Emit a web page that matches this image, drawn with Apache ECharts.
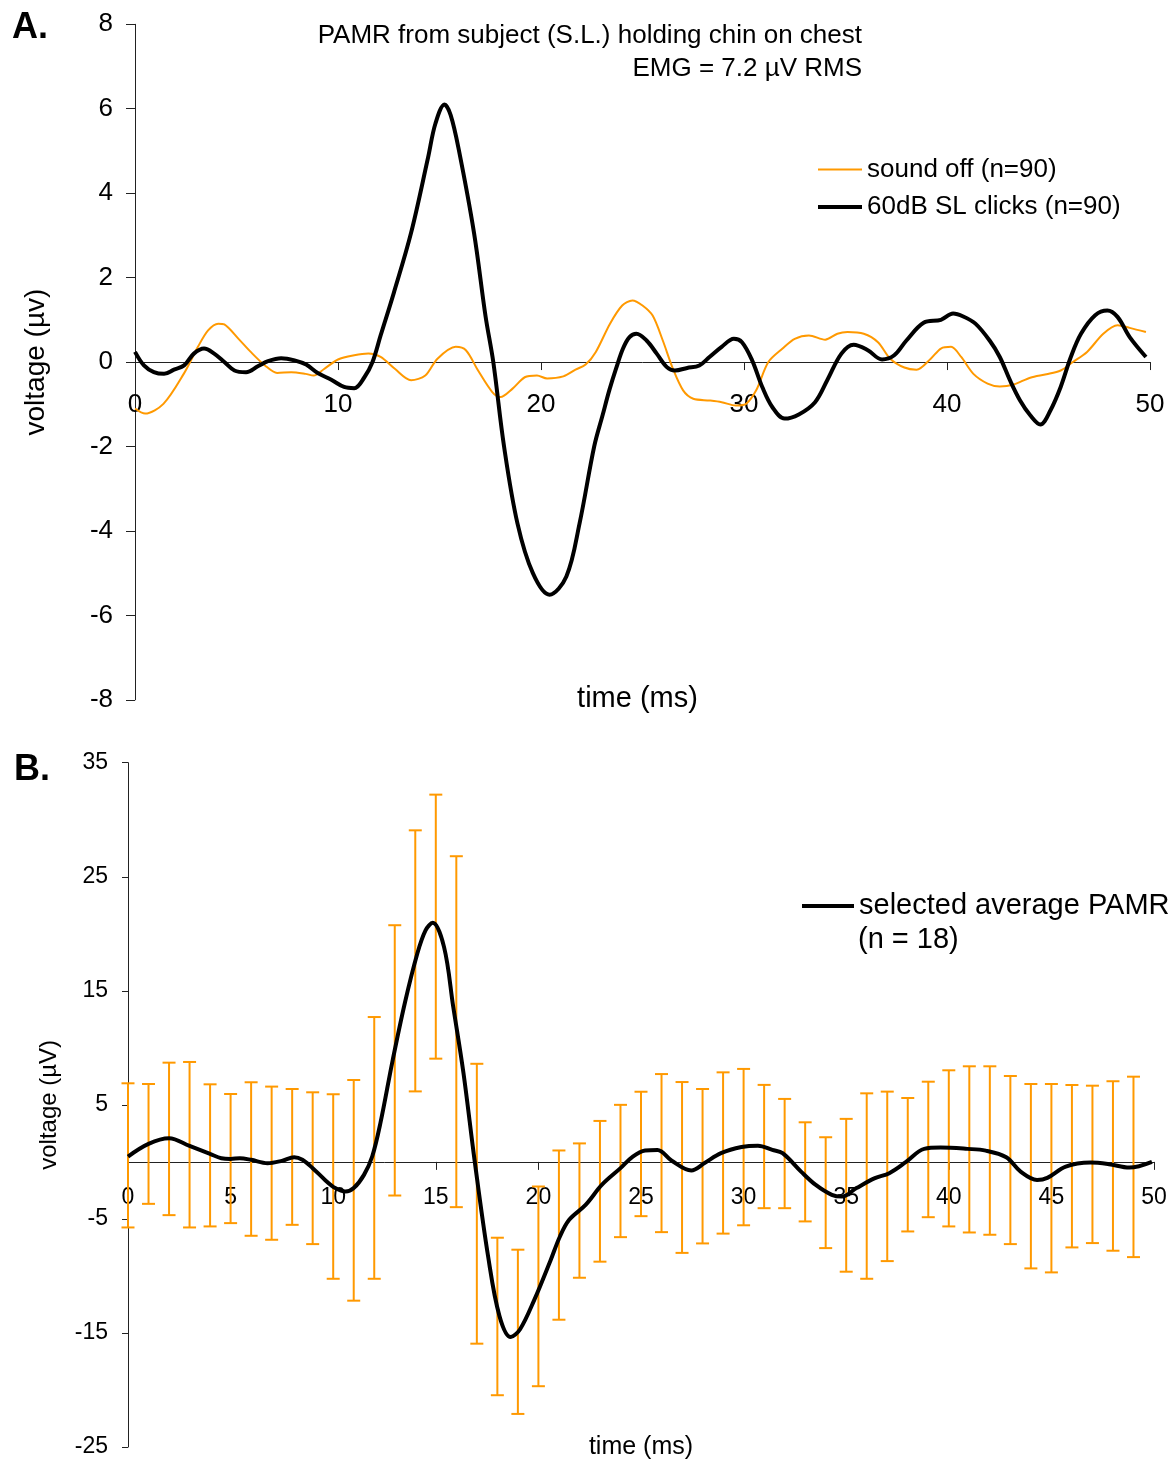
<!DOCTYPE html>
<html>
<head>
<meta charset="utf-8">
<script src="https://cdn.jsdelivr.net/npm/echarts@6/dist/echarts.min.js"></script>
<style>
html,body{margin:0;padding:0;background:#fff;}
#c{width:1175px;height:1459px;}
</style>
</head>
<body>
<div id="c"></div>
<script>
// ---------- Panel A data ----------
const soundOffT = [0,0.5,1.4,2.4,3.1,3.6,4.1,4.4,5.1,5.7,6.4,7.0,7.7,8.4,8.8,9.3,10.0,10.8,11.5,12.1,12.8,13.6,14.3,14.9,15.8,16.3,16.9,17.6,18.0,18.6,19.2,19.8,20.3,21.1,21.7,22.2,22.7,23.4,24.0,24.5,25.0,25.5,26.0,26.5,27.0,27.5,28.3,28.9,29.6,30.1,30.6,31.2,31.9,32.5,33.2,34.0,34.6,35.1,35.9,36.6,37.2,37.9,38.5,39.2,39.7,40.2,40.7,41.3,42.0,42.6,43.3,44.1,44.9,45.6,46.2,46.9,47.7,48.4,49.0,49.8];
const soundOffV = [-1.1,-1.22,-0.99,-0.28,0.36,0.75,0.91,0.89,0.55,0.24,-0.08,-0.26,-0.24,-0.28,-0.32,-0.17,0.06,0.16,0.2,0.12,-0.16,-0.43,-0.32,0.08,0.36,0.28,-0.2,-0.71,-0.83,-0.63,-0.36,-0.32,-0.39,-0.34,-0.18,-0.06,0.24,0.91,1.34,1.46,1.34,1.1,0.51,-0.16,-0.67,-0.87,-0.91,-0.95,-1.03,-0.99,-0.67,0,0.32,0.55,0.63,0.53,0.67,0.71,0.67,0.47,0.08,-0.13,-0.18,0.08,0.32,0.36,0.12,-0.28,-0.51,-0.58,-0.53,-0.37,-0.29,-0.2,0,0.24,0.67,0.87,0.81,0.71];
const clicksT = [0,0.44,0.93,1.43,1.92,2.42,2.9,3.4,3.9,4.4,4.9,5.47,6.05,6.55,7.2,7.86,8.43,9.0,9.67,10.3,10.8,11.3,11.7,12.1,12.75,13.6,14.44,14.8,15.25,15.55,15.95,16.7,17.27,17.65,18.18,18.84,19.6,20.42,21.25,21.9,22.62,23.04,23.37,23.7,24.04,24.36,24.7,25.2,25.7,26.2,26.6,27.2,27.8,28.3,28.9,29.5,29.9,30.4,30.9,31.4,32.0,32.7,33.5,34.1,34.8,35.4,36.1,36.8,37.4,38.0,38.85,39.7,40.3,40.8,41.4,42.1,42.6,43.1,43.6,44.1,44.6,45.1,45.6,46.1,46.6,47.3,47.9,48.4,49.0,49.8];
const clicksV = [0.24,-0.08,-0.24,-0.28,-0.18,-0.08,0.2,0.32,0.2,0,-0.2,-0.24,-0.1,0.02,0.09,0.04,-0.06,-0.26,-0.42,-0.59,-0.62,-0.36,0,0.63,1.64,3.06,4.85,5.65,6.1,5.85,5.03,3.06,1.08,0,-2.0,-3.82,-5.0,-5.51,-5.08,-3.82,-2.0,-1.25,-0.66,-0.15,0.32,0.59,0.67,0.51,0.2,-0.12,-0.2,-0.14,-0.08,0.12,0.36,0.55,0.47,0.04,-0.59,-1.07,-1.34,-1.24,-0.95,-0.43,0.2,0.41,0.28,0.06,0.16,0.51,0.93,1.0,1.15,1.08,0.91,0.51,0.12,-0.43,-0.91,-1.26,-1.48,-1.14,-0.59,0.12,0.67,1.11,1.22,1.07,0.59,0.12];
const ticksA_x = [0,10,20,30,40,50];
const ticksA_y = [-8,-6,-4,-2,0,2,4,6,8];

// ---------- Panel B data ----------
const meanT = [0,1,2,3,4,4.55,5,5.45,6,6.8,7.5,8.1,8.5,9,9.6,10.1,10.6,11.0,11.5,11.9,12.3,12.9,13.5,14.1,14.5,14.85,15.4,15.85,16.35,16.9,17.55,18.1,18.65,19.1,19.8,20.6,21.05,21.5,22.3,23.1,24.0,24.6,25.2,25.8,26.5,27.45,28.1,28.9,29.9,30.7,31.4,31.9,32.8,33.5,34.3,34.8,35.5,36.4,37.1,37.9,38.8,39.6,40.9,41.8,42.8,43.5,44.3,44.8,45.7,46.9,47.8,48.8,49.9];
const meanV = [0.47,1.58,2.07,1.4,0.7,0.32,0.26,0.32,0.18,-0.12,0.09,0.41,0.18,-0.55,-1.58,-2.3,-2.6,-2.3,-1.14,0.47,3.4,8.93,14.0,18.27,20.3,20.96,18.85,13.6,7.77,0,-8.3,-13.5,-15.36,-14.7,-12.1,-8.6,-6.54,-5.08,-3.77,-2.0,-0.55,0.47,1.0,1.05,0.1,-0.75,-0.1,0.76,1.3,1.42,1.05,0.76,-0.85,-2.0,-2.89,-3.04,-2.3,-1.43,-0.99,-0.03,1.14,1.25,1.14,0.99,0.41,-0.85,-1.58,-1.4,-0.41,-0.06,-0.2,-0.5,0.0];
const errT = [0,1,2,3,4,5,6,7,8,9,10,11,12,13,14,15,16,17,18,19,20,21,22,23,24,25,26,27,28,29,30,31,32,33,34,35,36,37,38,39,40,41,42,43,44,45,46,47,48,49];
const errHigh = [6.89,6.83,8.7,8.76,6.8,5.95,6.98,6.6,6.39,6.1,5.93,7.18,12.7,20.75,29.07,32.2,26.8,8.6,-6.65,-7.7,-2.16,1.0,1.62,3.59,5.0,6.15,7.7,7.0,6.39,7.85,8.15,6.75,5.52,3.47,2.16,3.77,6.01,6.16,5.6,7.03,8.03,8.38,8.38,7.53,6.83,6.83,6.74,6.68,7.07,7.47];
const errLow = [-5.75,-3.68,-4.67,-5.75,-5.66,-5.37,-6.48,-6.83,-5.52,-7.21,-10.25,-12.17,-10.25,-2.95,6.18,9.05,-3.97,-15.94,-20.46,-22.1,-19.67,-13.84,-10.16,-8.75,-6.6,-4.76,-6.16,-7.98,-7.15,-6.29,-5.56,-4.06,-4.06,-5.22,-7.56,-9.63,-10.25,-8.7,-6.1,-4.85,-5.66,-6.19,-6.39,-7.21,-9.34,-9.69,-7.5,-7.12,-7.79,-8.35];
const ticksB_x = [0,5,10,15,20,25,30,35,40,45,50];
const ticksB_y = [-25,-15,-5,5,15,25,35];

const ORANGE = '#FF9900';
const FONT = '"Liberation Sans", Arial, sans-serif';

const zip = (a, b) => a.map((v, i) => [v, b[i]]);
const errData = errT.map((t, i) => [t, errLow[i], errHigh[i]]);

const gridA = {left: 135, top: 24.3, width: 1015, height: 675.5, outerBoundsMode: 'none', containLabel: false};
const gridB = {left: 128, top: 762.7, width: 1026, height: 684.3, outerBoundsMode: 'none', containLabel: false};

// pixel lift of the x axis so that it runs along value 0 of the y axis
function zeroLift(grid, yt) {
  const lo = yt[0], hi = yt[yt.length - 1];
  return -grid.height * (0 - lo) / (hi - lo);
}

const chart = echarts.init(document.getElementById('c'), null, {renderer: 'canvas'});

function axisX(grid, gridObj, ticks, yt, fs, margin, name, nfs, gap, namePad) {
  return {
    type: 'value', gridIndex: grid, position: 'bottom',
    offset: zeroLift(gridObj, yt),
    min: ticks[0], max: ticks[ticks.length - 1], interval: ticks[1] - ticks[0],
    axisLine: {onZero: false, lineStyle: {color: '#222', width: 1}},
    axisTick: {show: true, inside: false, length: 8, lineStyle: {color: '#222'}},
    axisLabel: {color: '#000', fontSize: fs, fontFamily: FONT, margin: margin},
    splitLine: {show: false},
    name: name, nameLocation: 'middle', nameGap: gap,
    nameTextStyle: {color: '#000', fontSize: nfs, fontFamily: FONT, padding: namePad}
  };
}
function axisY(grid, ticks, fs, margin, tickLen, name, nfs, gap) {
  return {
    type: 'value', gridIndex: grid,
    min: ticks[0], max: ticks[ticks.length - 1], interval: ticks[1] - ticks[0],
    axisLine: {show: true, onZero: false, lineStyle: {color: '#222', width: 1}},
    axisTick: {show: true, inside: false, length: tickLen, lineStyle: {color: '#222'}},
    axisLabel: {color: '#000', fontSize: fs, fontFamily: FONT, margin: margin},
    splitLine: {show: false},
    name: name, nameLocation: 'middle', nameGap: gap,
    nameTextStyle: {color: '#000', fontSize: nfs, fontFamily: FONT}
  };
}

const option = {
  animation: false,
  backgroundColor: '#fff',
  grid: [gridA, gridB],
  xAxis: [
    axisX(0, gridA, ticksA_x, ticksA_y, 26, 30, 'time (ms)', 29, 322, [0, 10, 0, 0]),
    axisX(1, gridB, ticksB_x, ticksB_y, 23, 24, 'time (ms)', 25, 273, [0, 0, 0, 0])
  ],
  yAxis: [
    axisY(0, ticksA_y, 26, 22, 9, 'voltage (\u00b5v)', 28, 85),
    axisY(1, ticksB_y, 23, 20, 6, 'voltage (\u00b5V)', 24, 67)
  ],
  legend: [
    {
      data: [
        {name: 'sound off (n=90)', icon: 'path://M0,0 L44,0 L44,2 L0,2 Z'},
        {name: '60dB SL clicks (n=90)', icon: 'path://M0,0 L44,0 L44,4 L0,4 Z'}
      ],
      orient: 'vertical', left: 818, top: 156.5, padding: 0,
      itemWidth: 44, itemHeight: 26, itemGap: 11.4,
      textStyle: {color: '#000', fontSize: 26, fontFamily: FONT, lineHeight: 26}
    },
    {
      data: [{name: 'selected average PAMR', icon: 'path://M0,0 L52,0 L52,4 L0,4 Z'}],
      orient: 'vertical', left: 802, top: 891.5, padding: 0,
      itemWidth: 52, itemHeight: 29,
      textStyle: {color: '#000', fontSize: 29, fontFamily: FONT, lineHeight: 29}
    }
  ],
  graphic: [
    {type: 'text', x: 12, y: 10, style: {text: 'A.', font: 'bold 36px ' + FONT, fill: '#000'}},
    {type: 'text', x: 14, y: 752, style: {text: 'B.', font: 'bold 36px ' + FONT, fill: '#000'}},
    {type: 'text', x: 862, y: 36, style: {text: 'PAMR from subject (S.L.) holding chin on chest', font: '26px ' + FONT, fill: '#000', textAlign: 'right', textVerticalAlign: 'middle'}},
    {type: 'text', x: 862, y: 69, style: {text: 'EMG = 7.2 \u00b5V RMS', font: '26px ' + FONT, fill: '#000', textAlign: 'right', textVerticalAlign: 'middle'}},
    {type: 'text', x: 858, y: 940, style: {text: '(n = 18)', font: '29px ' + FONT, fill: '#000', textAlign: 'left', textVerticalAlign: 'middle'}}
  ],
  series: [
    {
      name: 'sound off (n=90)', type: 'line', xAxisIndex: 0, yAxisIndex: 0,
      data: zip(soundOffT, soundOffV), smooth: 0.3, symbol: 'none', showSymbol: false,
      lineStyle: {color: ORANGE, width: 2}, itemStyle: {color: ORANGE}, z: 2
    },
    {
      name: '60dB SL clicks (n=90)', type: 'line', xAxisIndex: 0, yAxisIndex: 0,
      data: zip(clicksT, clicksV), smooth: 0.35, symbol: 'none', showSymbol: false,
      lineStyle: {color: '#000', width: 4}, itemStyle: {color: '#000'}, z: 3
    },
    {
      name: 'error bars', type: 'custom', xAxisIndex: 1, yAxisIndex: 1,
      data: errData, silent: true, z: 2,
      renderItem: function (params, api) {
        const x = api.value(0), lo = api.value(1), hi = api.value(2);
        const pHi = api.coord([x, hi]);
        const pLo = api.coord([x, lo]);
        const hw = 6.5;
        const st = {stroke: ORANGE, lineWidth: 2};
        return {
          type: 'group',
          children: [
            {type: 'line', shape: {x1: pHi[0], y1: pHi[1], x2: pLo[0], y2: pLo[1]}, style: st},
            {type: 'line', shape: {x1: pHi[0] - hw, y1: pHi[1], x2: pHi[0] + hw, y2: pHi[1]}, style: st},
            {type: 'line', shape: {x1: pLo[0] - hw, y1: pLo[1], x2: pLo[0] + hw, y2: pLo[1]}, style: st}
          ]
        };
      }
    },
    {
      name: 'selected average PAMR', type: 'line', xAxisIndex: 1, yAxisIndex: 1,
      data: zip(meanT, meanV), smooth: 0.35, symbol: 'none', showSymbol: false,
      lineStyle: {color: '#000', width: 4}, itemStyle: {color: '#000'}, z: 4
    }
  ]
};
chart.setOption(option);
</script>
</body>
</html>
